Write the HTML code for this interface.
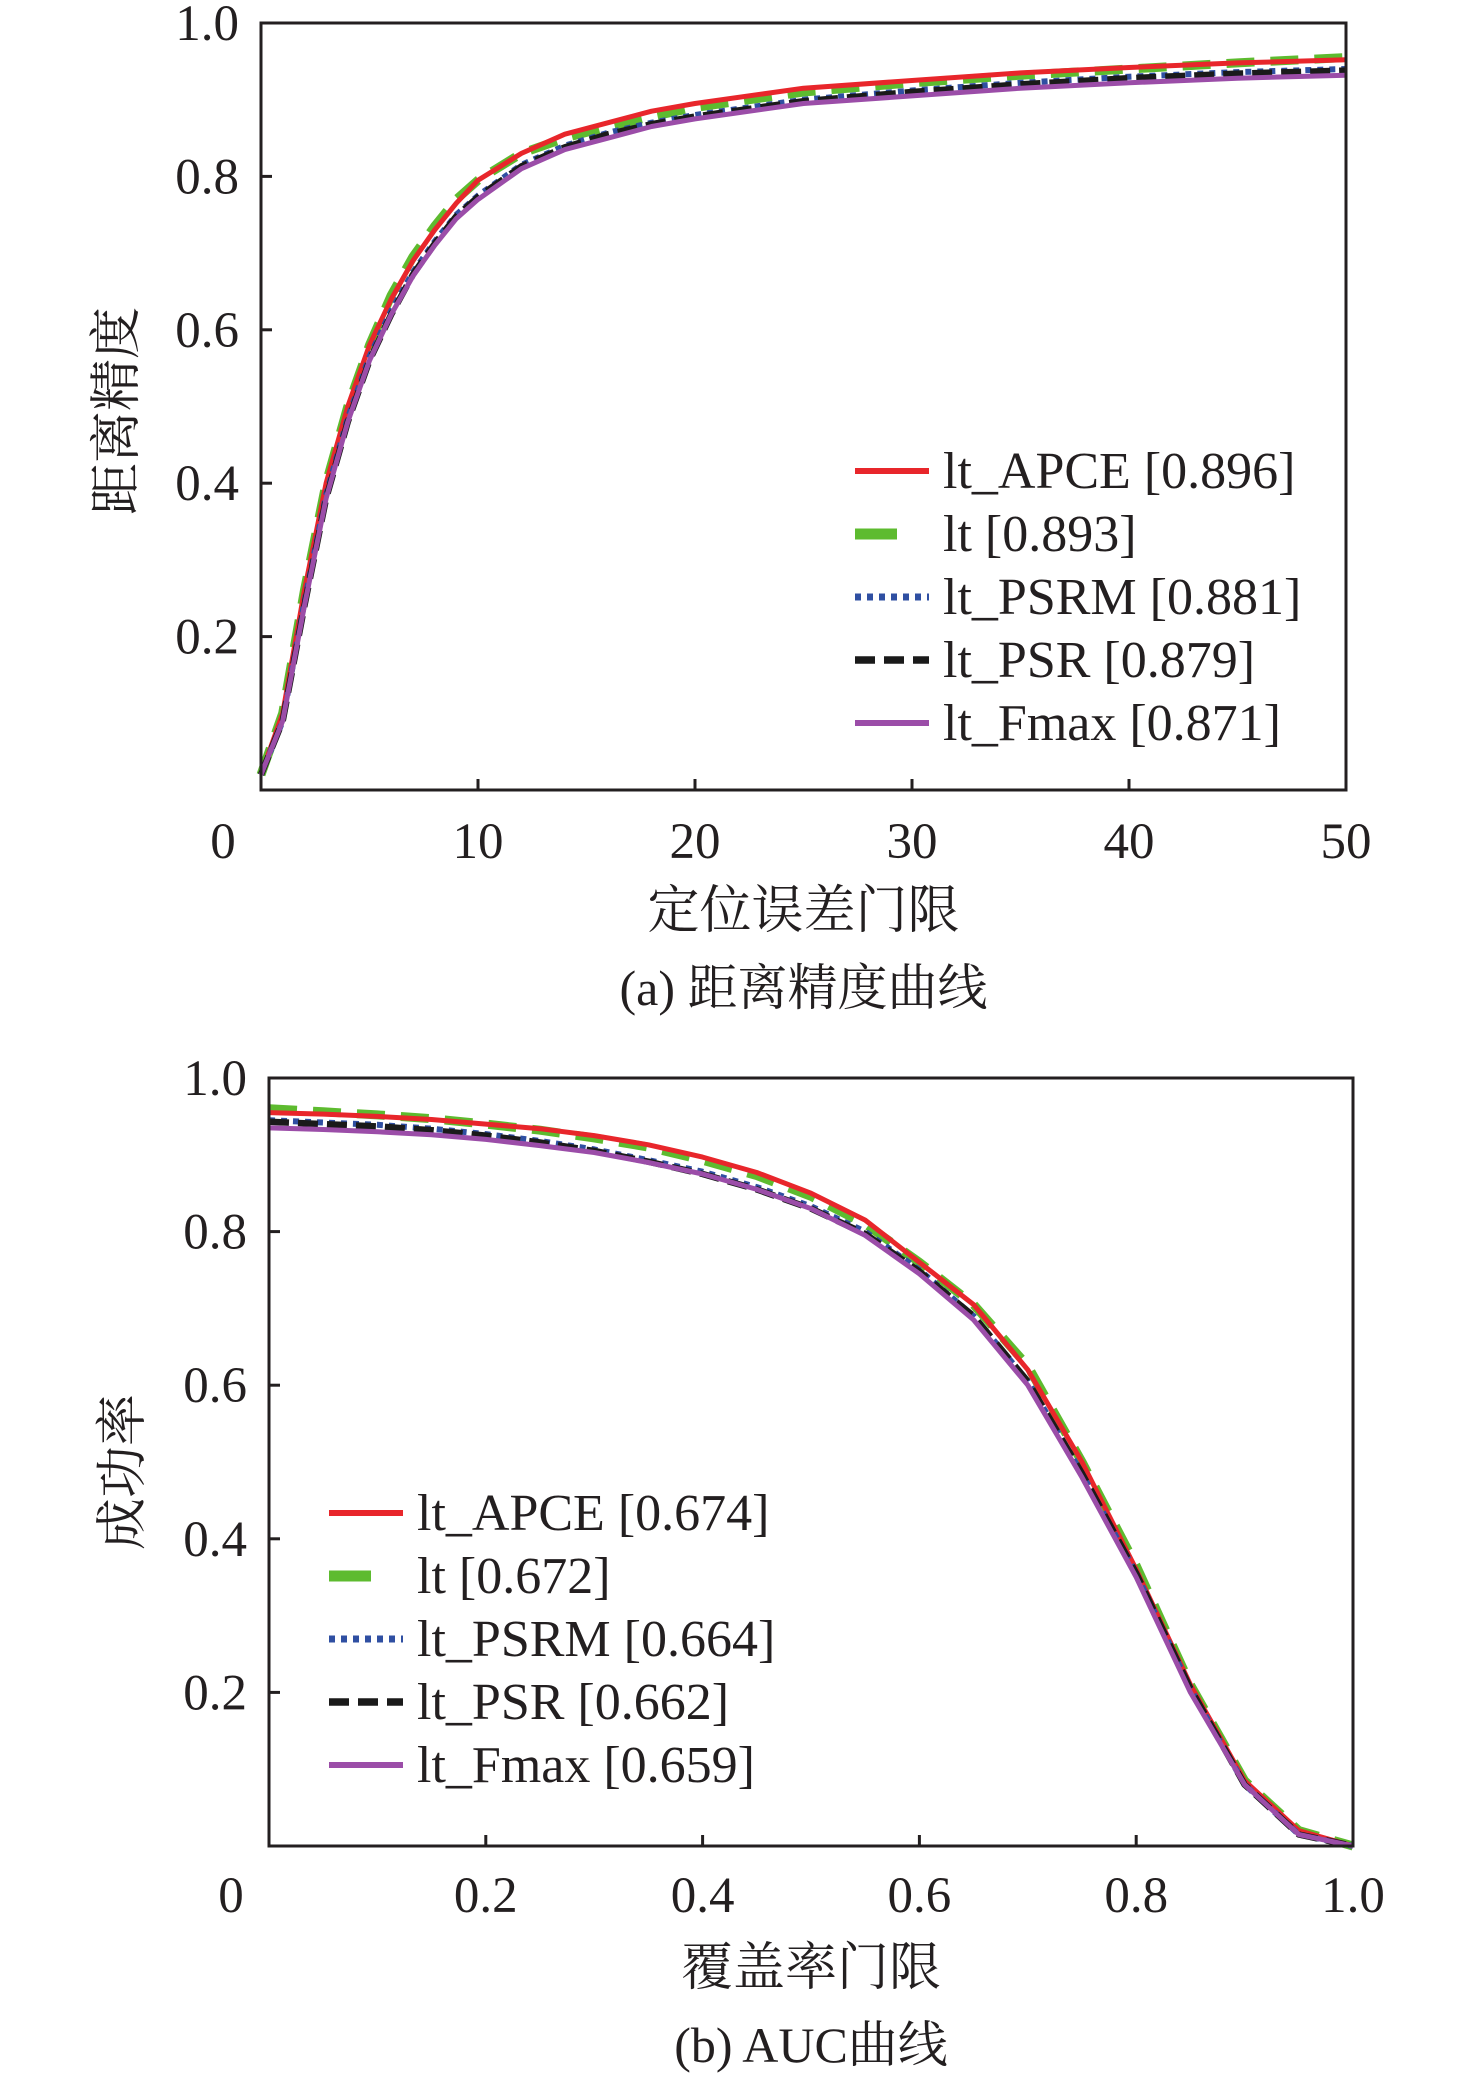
<!DOCTYPE html>
<html><head><meta charset="utf-8">
<style>
html,body{margin:0;padding:0;background:#fff;}
svg{display:block;}
text{font-family:"Liberation Serif","Noto Serif CJK SC",serif;fill:#231f20;}
</style></head>
<body>
<svg id="fig" width="1476" height="2079" viewBox="0 0 1476 2079" xmlns="http://www.w3.org/2000/svg"></svg>
<script>
// ---------- Chart A data ----------
const aX = [0,1,2,3,4,5,6,7,8,9,10,12,14,16,18,20,25,30,35,40,45,50];
const aAPCE = [0.02,0.10,0.26,0.40,0.50,0.58,0.64,0.69,0.73,0.765,0.795,0.83,0.855,0.87,0.885,0.895,0.915,0.925,0.935,0.942,0.948,0.952];
const aLt   = [0.02,0.10,0.26,0.40,0.50,0.58,0.645,0.695,0.735,0.77,0.795,0.83,0.85,0.865,0.878,0.89,0.91,0.922,0.932,0.94,0.948,0.955];
const aPSRM = [0.02,0.09,0.245,0.385,0.485,0.565,0.625,0.675,0.715,0.75,0.775,0.815,0.84,0.857,0.87,0.88,0.90,0.912,0.922,0.93,0.936,0.94];
const aPSR  = [0.02,0.09,0.24,0.38,0.48,0.56,0.62,0.672,0.712,0.748,0.773,0.813,0.838,0.855,0.868,0.878,0.898,0.91,0.92,0.928,0.934,0.938];
const aFmax = [0.02,0.09,0.24,0.38,0.48,0.56,0.62,0.67,0.71,0.745,0.77,0.81,0.835,0.85,0.865,0.875,0.895,0.905,0.915,0.922,0.928,0.932];
const aXTicks = [0,10,20,30,40,50];
const aXTickLabels = ["0","10","20","30","40","50"];
const aYTicks = [0.2,0.4,0.6,0.8,1.0];
const aYTickLabels = ["0.2","0.4","0.6","0.8","1.0"];
const aLegend = ["lt_APCE [0.896]","lt [0.893]","lt_PSRM [0.881]","lt_PSR [0.879]","lt_Fmax [0.871]"];
// ---------- Chart B data ----------
const bX = [0,0.05,0.1,0.15,0.2,0.25,0.3,0.35,0.4,0.45,0.5,0.55,0.6,0.65,0.7,0.75,0.8,0.85,0.9,0.95,1.0];
const bAPCE = [0.955,0.953,0.95,0.946,0.94,0.934,0.925,0.913,0.897,0.877,0.85,0.815,0.76,0.705,0.62,0.50,0.36,0.21,0.085,0.02,0];
const bLt   = [0.96,0.956,0.952,0.947,0.94,0.932,0.922,0.91,0.893,0.873,0.846,0.81,0.76,0.705,0.625,0.50,0.365,0.21,0.085,0.02,0];
const bPSRM = [0.945,0.942,0.939,0.934,0.927,0.918,0.907,0.893,0.878,0.858,0.833,0.80,0.75,0.69,0.605,0.485,0.355,0.205,0.08,0.015,0];
const bPSR  = [0.943,0.94,0.937,0.932,0.925,0.916,0.905,0.891,0.875,0.855,0.83,0.797,0.748,0.69,0.605,0.485,0.355,0.205,0.08,0.015,0];
const bFmax = [0.935,0.933,0.93,0.926,0.92,0.912,0.903,0.89,0.875,0.855,0.83,0.795,0.745,0.685,0.60,0.48,0.35,0.20,0.08,0.015,0];
const bXTicks = [0,0.2,0.4,0.6,0.8,1.0];
const bXTickLabels = ["0","0.2","0.4","0.6","0.8","1.0"];
const bYTicks = [0.2,0.4,0.6,0.8,1.0];
const bYTickLabels = ["0.2","0.4","0.6","0.8","1.0"];
const bLegend = ["lt_APCE [0.674]","lt [0.672]","lt_PSRM [0.664]","lt_PSR [0.662]","lt_Fmax [0.659]"];

const NS="http://www.w3.org/2000/svg";
const svg=document.getElementById('fig');
function el(tag,attrs,parent){const e=document.createElementNS(NS,tag);for(const k in attrs)e.setAttribute(k,attrs[k]);(parent||svg).appendChild(e);return e;}

const styles=[
 {key:'lt',color:'#5dbb2f',w:9,dash:'28 16',slug:'lt'},
 {key:'APCE',color:'#e8262b',w:5,dash:'',slug:'lt-apce'},
 {key:'PSRM',color:'#2f4fa2',w:6,dash:'6 6',slug:'lt-psrm'},
 {key:'PSR',color:'#1a1a1a',w:6.5,dash:'20 9',slug:'lt-psr'},
 {key:'Fmax',color:'#9b4da8',w:5,dash:'',slug:'lt-fmax'}
];
const legendStyles=[styles[1],styles[0],styles[2],styles[3],styles[4]];

function chart(cfg){
 const g=el('g',{});
 
 
 const {L,R,T,B,xmax}=cfg;
 const sx=v=>L+(v/xmax)*(R-L), sy=v=>B-v*(B-T);
 const order=['lt','APCE','PSRM','PSR','Fmax'];
 order.forEach(k=>{
  const st=styles.find(s=>s.key===k);
  const ys=cfg.series[k];
  const d=cfg.x.map((x,i)=>(i?'L':'M')+sx(x).toFixed(1)+' '+sy(ys[i]).toFixed(1)).join(' ');
  const p=el('path',{d:d,fill:'none',stroke:st.color,'stroke-width':st.w,'stroke-dasharray':st.dash,'stroke-linejoin':'round'},g);
  
  
 });
 const fr=el('rect',{x:L,y:T,width:R-L,height:B-T,fill:'none',stroke:'#231f20','stroke-width':3},g);
 
 
 cfg.xTicks.forEach((t,i)=>{
  const x=sx(t);
  if(i>0&&i<cfg.xTicks.length-1){el('line',{x1:x,y1:B,x2:x,y2:B-11,stroke:'#231f20','stroke-width':3},g);}
  const tx=el('text',{x:i===0?x-38:x,y:cfg.xLabelY,'font-size':51,'text-anchor':'middle'},g);
  tx.textContent=cfg.xTickLabels[i];
  
  
 });
 cfg.yTicks.forEach((t,i)=>{
  const y=sy(t);
  if(t<1){el('line',{x1:L,y1:y,x2:L+11,y2:y,stroke:'#231f20','stroke-width':3},g);}
  const tx=el('text',{x:L-22,y:y+17,'font-size':51,'text-anchor':'end'},g);
  tx.textContent=cfg.yTickLabels[i];
  
  
 });
 const xt=el('text',{x:(L+R)/2,y:cfg.xTitleY,'font-size':52,'text-anchor':'middle'},g);
 xt.textContent=cfg.xTitle;
 
 
 const yt=el('text',{x:0,y:0,'font-size':52,'text-anchor':'middle',transform:`translate(${cfg.yTitleX},${cfg.yTitleY}) rotate(-90)`},g);
 yt.textContent=cfg.yTitle;
 
 
 const cap=el('text',{x:(L+R)/2,y:cfg.capY,'font-size':50,'text-anchor':'middle'},g);
 cap.textContent=cfg.caption;
 
 
 const lg=el('g',{},g);
 
 
 cfg.legend.forEach((lab,i)=>{
  const st=legendStyles[i];
  const y=cfg.legY+i*63;
  const e=el('g',{},lg);
  
  
  el('line',{x1:cfg.legX,y1:y,x2:cfg.legX+(st.key==='lt'?42:74),y2:y,stroke:st.color,'stroke-width':st.key==='lt'?11:st.w+1,'stroke-dasharray':st.key==='lt'?'':st.dash},e);
  const t=el('text',{x:cfg.legX+88,y:y+17,'font-size':52},e);
  t.textContent=lab;
 });
}

chart({name:'distance-precision-chart',L:261,R:1346,T:23,B:790,xmax:50,x:aX,
 series:{APCE:aAPCE,lt:aLt,PSRM:aPSRM,PSR:aPSR,Fmax:aFmax},
 xTicks:aXTicks,xTickLabels:aXTickLabels,yTicks:aYTicks,yTickLabels:aYTickLabels,
 xLabelY:858,xTitle:'定位误差门限',xTitleY:928,yTitle:'距离精度',yTitleX:134,yTitleY:411,
 caption:'(a) 距离精度曲线',capY:1005,legend:aLegend,legX:855,legY:471});
chart({name:'success-rate-chart',L:269,R:1353,T:1078,B:1846,xmax:1,x:bX,
 series:{APCE:bAPCE,lt:bLt,PSRM:bPSRM,PSR:bPSR,Fmax:bFmax},
 xTicks:bXTicks,xTickLabels:bXTickLabels,yTicks:bYTicks,yTickLabels:bYTickLabels,
 xLabelY:1912,xTitle:'覆盖率门限',xTitleY:1985,yTitle:'成功率',yTitleX:140,yTitleY:1472,
 caption:'(b) AUC曲线',capY:2062,legend:bLegend,legX:329,legY:1513});
</script>
</body></html>
